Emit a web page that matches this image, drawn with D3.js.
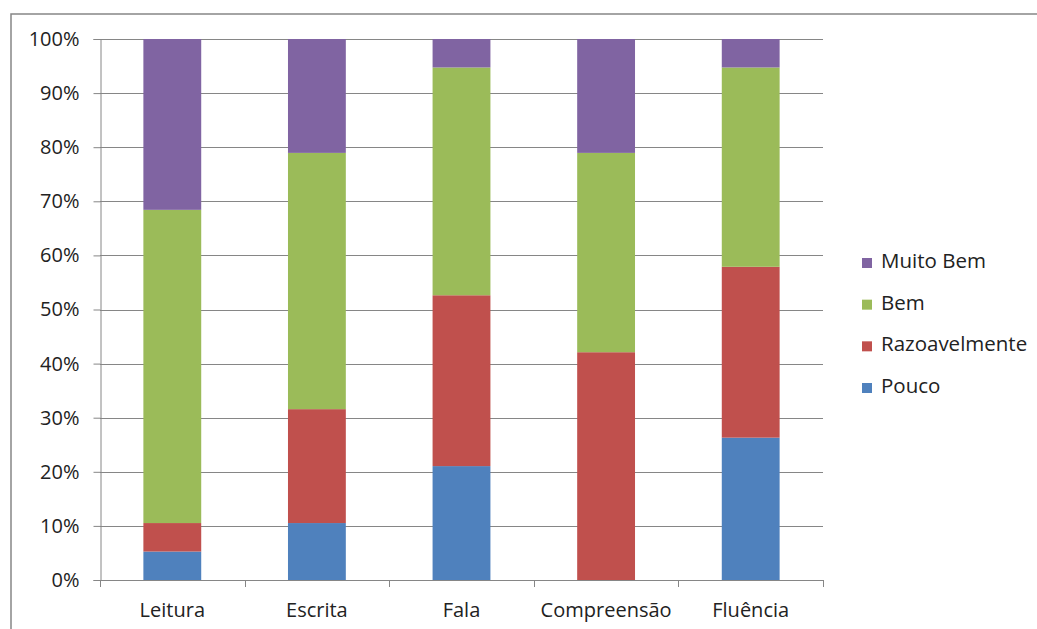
<!DOCTYPE html>
<html>
<head>
<meta charset="utf-8">
<script src="https://cdn.jsdelivr.net/npm/d3@7"></script>
<style>
  html, body { margin: 0; padding: 0; background: #fff; }
  svg { display: block; }
  text { font-family: "Open Sans", "Noto Sans", "Liberation Sans", sans-serif; fill: #222; }
</style>
</head>
<body>
<svg id="chart" width="1037" height="629"></svg>
<script>
// Respondent counts per skill (19 answers each), stacked to 100%
const categories = ["Leitura", "Escrita", "Fala", "Compreensão", "Fluência"];
const series = ["Pouco", "Razoavelmente", "Bem", "Muito Bem"];
const pouco = [1, 2, 4, 0, 5];
const razoavelmente = [1, 4, 6, 8, 6];
const bem = [11, 9, 8, 7, 7];
const muitoBem = [6, 4, 1, 4, 1];
const yTicks = [0, 0.1, 0.2, 0.3, 0.4, 0.5, 0.6, 0.7, 0.8, 0.9, 1];
const colors = ["#4F81BD", "#C0504D", "#9BBB59", "#8064A2"];

const FONT = "'Open Sans', 'Noto Sans', 'Liberation Sans', sans-serif";

const rows = categories.map((c, i) => ({
  cat: c,
  "Pouco": pouco[i],
  "Razoavelmente": razoavelmente[i],
  "Bem": bem[i],
  "Muito Bem": muitoBem[i]
}));

const stacked = d3.stack().keys(series).offset(d3.stackOffsetExpand)(rows);

const svg = d3.select("#chart");
const plot = { left: 100, right: 823, top: 39, bottom: 580 };

// outer chart frame
svg.append("rect")
  .attr("x", 11).attr("y", 14)
  .attr("width", 1100).attr("height", 700)
  .attr("fill", "none").attr("stroke", "#868686").attr("stroke-width", 1.5);

const x = d3.scaleBand().domain(categories).range([plot.left, plot.right]).paddingInner(0.6).paddingOuter(0.3);
const xEdges = d3.scalePoint().domain(d3.range(categories.length + 1)).range([plot.left, plot.right]);
const y = d3.scaleLinear().domain([0, 1]).range([plot.bottom, plot.top]);
const color = d3.scaleOrdinal().domain(series).range(colors);

// horizontal gridlines
svg.append("g")
  .selectAll("line")
  .data(yTicks.slice(1))
  .join("line")
  .attr("x1", plot.left).attr("x2", plot.right)
  .attr("y1", d => Math.round(y(d)) + 0.5).attr("y2", d => Math.round(y(d)) + 0.5)
  .attr("stroke", "#868686").attr("stroke-width", 1);

// y axis
const yAxis = svg.append("g")
  .attr("transform", `translate(${plot.left + 0.5},0)`)
  .call(d3.axisLeft(y).tickValues(yTicks).tickFormat(d3.format(".0%")).tickSize(7).tickPadding(14));
yAxis.select(".domain").attr("stroke", "#868686");
yAxis.selectAll(".tick line").attr("stroke", "#868686");
yAxis.selectAll(".tick text").attr("font-size", 20).attr("fill", "#222")
  .attr("font-family", FONT);

// bars
svg.append("g")
  .selectAll("g")
  .data(stacked)
  .join("g")
  .attr("fill", d => color(d.key))
  .selectAll("rect")
  .data(d => d)
  .join("rect")
  .attr("x", d => x(d.data.cat))
  .attr("width", x.bandwidth())
  .attr("y", d => y(d[1]))
  .attr("height", d => y(d[0]) - y(d[1]));

// x axis line with category separator ticks
const xAxis = svg.append("g");
xAxis.append("line")
  .attr("x1", plot.left).attr("x2", plot.right)
  .attr("y1", plot.bottom + 0.5).attr("y2", plot.bottom + 0.5)
  .attr("stroke", "#868686");
xAxis.selectAll("line.sep")
  .data(d3.range(categories.length + 1))
  .join("line")
  .attr("class", "sep")
  .attr("x1", d => Math.round(xEdges(d)) + 0.5).attr("x2", d => Math.round(xEdges(d)) + 0.5)
  .attr("y1", plot.bottom).attr("y2", plot.bottom + 7)
  .attr("stroke", "#868686");
xAxis.selectAll("text")
  .data(categories)
  .join("text")
  .attr("x", d => x(d) + x.bandwidth() / 2)
  .attr("y", 617)
  .attr("text-anchor", "middle")
  .attr("font-size", 20)
  .text(d => d);

// legend (top to bottom: Muito Bem, Bem, Razoavelmente, Pouco)
const legendY = d3.scalePoint().domain(series.slice().reverse()).range([268, 393]);
const legend = svg.append("g")
  .selectAll("g")
  .data(series.slice().reverse())
  .join("g")
  .attr("transform", d => `translate(862,${legendY(d)})`);
legend.append("rect")
  .attr("x", 0).attr("y", -10).attr("width", 10).attr("height", 10)
  .attr("fill", d => color(d));
legend.append("text")
  .attr("x", 19).attr("y", 0)
  .attr("font-size", 20.5)
  .text(d => d);
</script>
</body>
</html>
